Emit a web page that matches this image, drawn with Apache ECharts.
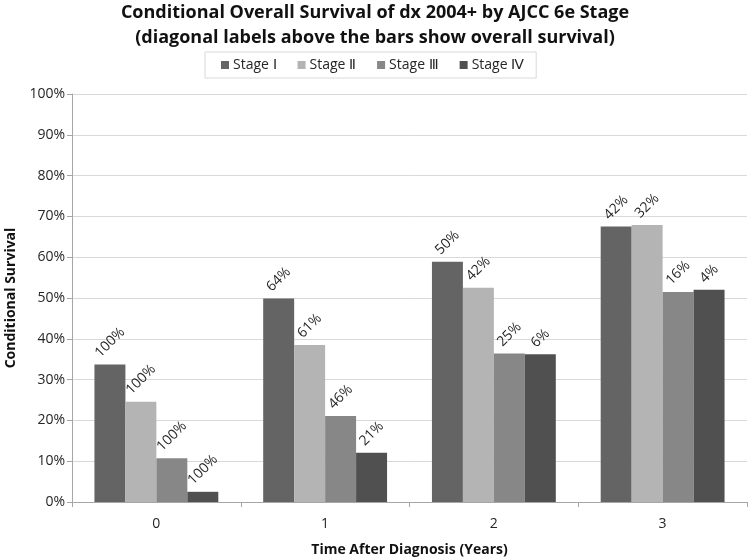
<!DOCTYPE html>
<html>
<head>
<meta charset="utf-8">
<script src="https://cdn.jsdelivr.net/npm/echarts@6/dist/echarts.min.js"></script>
<style>html,body{margin:0;padding:0;background:#fff}#c{width:750px;height:558px}</style>
</head>
<body>
<div id="c"></div>
<script>
var categories = ['0', '1', '2', '3'];
var seriesNames = ['Stage \u2160', 'Stage \u2161', 'Stage \u2162', 'Stage \u2163'];
var stage1 = [33.7, 49.9, 58.9, 67.5];
var stage2 = [24.6, 38.5, 52.5, 67.9];
var stage3 = [10.7, 21.1, 36.4, 51.5];
var stage4 = [2.5, 12.1, 36.2, 52.0];
var os1 = ['100%', '64%', '50%', '42%'];
var os2 = ['100%', '61%', '42%', '32%'];
var os3 = ['100%', '46%', '25%', '16%'];
var os4 = ['100%', '21%', '6%', '4%'];
var yTicks = [0, 10, 20, 30, 40, 50, 60, 70, 80, 90, 100];

var colors = ['#646464', '#b4b4b4', '#878787', '#505050'];
var FONT = 'Open Sans';
var values = [stage1, stage2, stage3, stage4];
var labels = [os1, os2, os3, os4];
var distByLen = { 2: 16, 3: 19, 4: 22 };

var series = values.map(function (vals, si) {
  return {
    name: seriesNames[si],
    type: 'bar',
    barGap: '0%',
    barCategoryGap: '26.6%',
    itemStyle: { color: colors[si] },
    data: vals.map(function (v, i) {
      var txt = labels[si][i];
      return {
        value: v,
        label: { distance: distByLen[txt.length] || 19 }
      };
    }),
    label: {
      show: true,
      position: 'top',
      rotate: 45,
      align: 'center',
      verticalAlign: 'middle',
      fontFamily: FONT,
      fontSize: 14,
      color: '#262626',
      formatter: (function (s) { return function (p) { return labels[s][p.dataIndex]; }; })(si)
    }
  };
});

var chart = echarts.init(document.getElementById('c'));
chart.setOption({
  animation: false,
  backgroundColor: '#fff',
  title: {
    text: 'Conditional Overall Survival of dx 2004+ by AJCC 6e Stage\n(diagonal labels above the bars show overall survival)',
    left: 'center',
    top: 0,
    padding: 0,
    textStyle: { fontFamily: FONT, fontSize: 18, fontWeight: 'bold', color: '#111', lineHeight: 25 }
  },
  legend: {
    data: seriesNames,
    top: 52,
    left: 205,
    itemWidth: 8,
    itemHeight: 8,
    itemGap: 21,
    padding: [6, 12, 6, 16],
    borderColor: '#d9d9d9',
    borderWidth: 1,
    icon: 'rect',
    textStyle: { fontFamily: FONT, fontSize: 14, color: '#262626', padding: [0, 0, 0, -1] }
  },
  grid: { left: 72, right: 3, top: 94, bottom: 56, containLabel: false, outerBoundsMode: 'none' },
  xAxis: {
    type: 'category',
    data: categories,
    name: 'Time After Diagnosis (Years)',
    nameLocation: 'middle',
    nameGap: 41,
    nameTextStyle: { fontFamily: FONT, fontSize: 14, fontWeight: 'bold', color: '#111' },
    axisLine: { lineStyle: { color: '#a6a6a6' } },
    axisTick: { show: true, length: 5, lineStyle: { color: '#a6a6a6' } },
    axisLabel: { fontFamily: FONT, fontSize: 14, color: '#262626', margin: 15 }
  },
  yAxis: {
    type: 'value',
    min: 0,
    max: 100,
    interval: 10,
    name: 'Conditional Survival',
    nameLocation: 'middle',
    nameGap: 52,
    nameTextStyle: { fontFamily: FONT, fontSize: 14, fontWeight: 'bold', color: '#111' },
    axisLine: { show: true, lineStyle: { color: '#a6a6a6' } },
    axisTick: { show: true, length: 5, lineStyle: { color: '#a6a6a6' } },
    splitLine: { lineStyle: { color: '#d9d9d9' } },
    axisLabel: {
      fontFamily: FONT, fontSize: 14, color: '#262626', margin: 7,
      formatter: function (v) { return yTicks.indexOf(v) >= 0 ? v + '%' : ''; }
    }
  },
  series: series
});
</script>
</body>
</html>
